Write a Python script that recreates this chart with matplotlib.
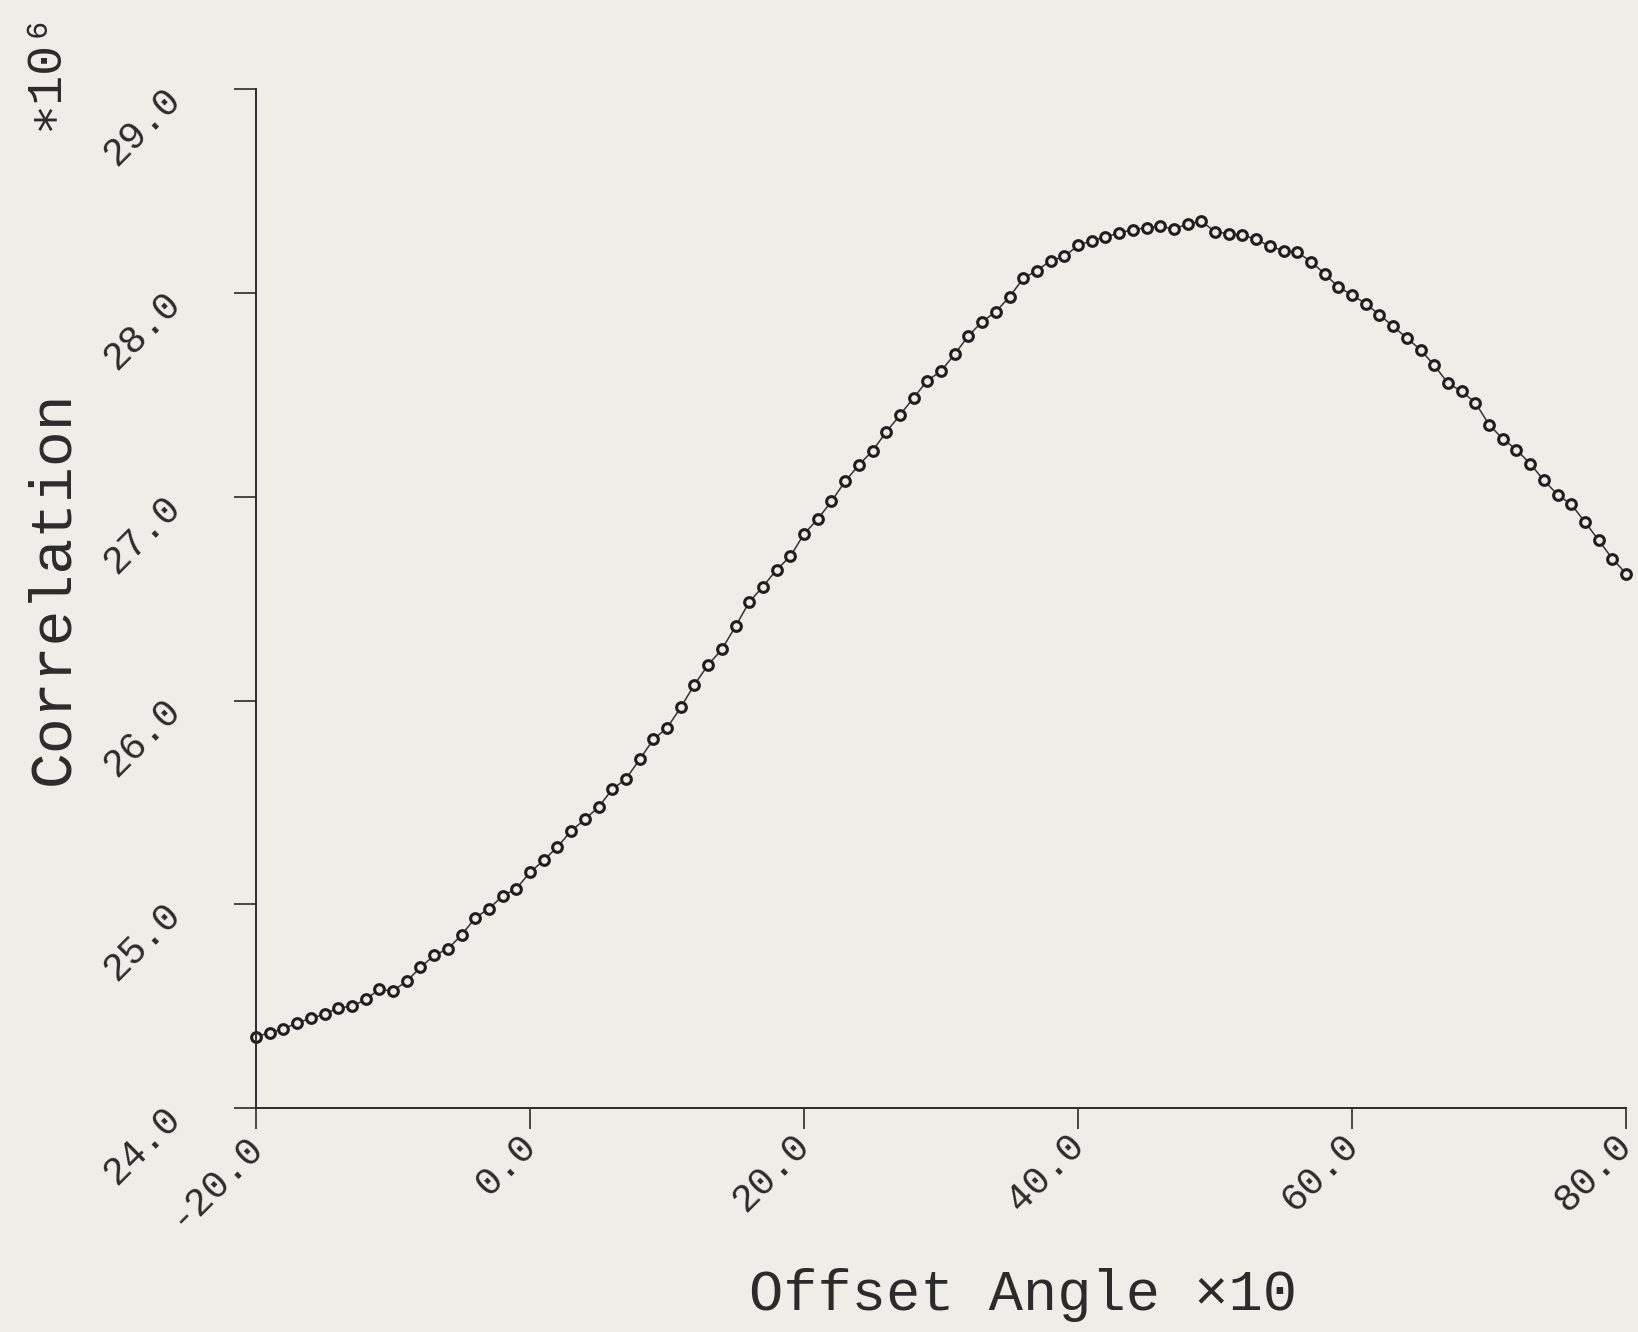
import numpy as np
import matplotlib
matplotlib.use("Agg")
import matplotlib.pyplot as plt
from matplotlib.transforms import ScaledTranslation

# offset angle (x10) and correlation (x10^6)
offset = list(range(-20, 81))
corr = [24.351, 24.371, 24.389, 24.420, 24.441, 24.462, 24.493, 24.500, 24.534, 24.583,
        24.576, 24.624, 24.691, 24.750, 24.782, 24.850, 24.934, 24.980, 25.041, 25.078,
        25.157, 25.217, 25.282, 25.361, 25.417, 25.478, 25.564, 25.616, 25.711, 25.809,
        25.866, 25.966, 26.078, 26.175, 26.251, 26.364, 26.483, 26.559, 26.642, 26.707,
        26.817, 26.890, 26.977, 27.075, 27.155, 27.225, 27.317, 27.400, 27.485, 27.569,
        27.616, 27.699, 27.789, 27.858, 27.907, 27.980, 28.070, 28.109, 28.157, 28.178,
        28.232, 28.256, 28.273, 28.294, 28.309, 28.319, 28.326, 28.312, 28.338, 28.350,
        28.300, 28.289, 28.282, 28.263, 28.227, 28.207, 28.199, 28.153, 28.093, 28.028,
        27.990, 27.946, 27.892, 27.835, 27.778, 27.720, 27.644, 27.557, 27.516, 27.461,
        27.353, 27.284, 27.230, 27.162, 27.080, 27.010, 26.962, 26.876, 26.786, 26.696,
        26.623]

xticks = [-20, 0, 20, 40, 60, 80]
xticklabels = ['-20.0', '0.0', '20.0', '40.0', '60.0', '80.0']
yticks = [24, 25, 26, 27, 28, 29]
yticklabels = ['24.0', '25.0', '26.0', '27.0', '28.0', '29.0']

paper = '#efede8'
ink = '#2b2b2b'
mono = ['Liberation Mono', 'DejaVu Sans Mono', 'DejaVu Sans']

fig = plt.figure(figsize=(16.38, 13.32), dpi=100, facecolor=paper)
ax = fig.add_axes([0.1563, 0.1679, 0.8364, 0.7654], facecolor=paper)

ax.plot(offset, corr, '-', color='#333333', lw=1.1, marker='o', ms=7,
        mfc=paper, mec='#1e1e1e', mew=2.2, clip_on=False)

ax.set_xlim(-20, 80)
ax.set_ylim(24, 29)
for s in ['top', 'right']:
    ax.spines[s].set_visible(False)
for s in ['left', 'bottom']:
    ax.spines[s].set_color(ink)
    ax.spines[s].set_linewidth(1.4)

ax.set_xticks(xticks)
ax.set_xticklabels(xticklabels, rotation=45, ha='right', va='top',
                   rotation_mode='anchor', family=mono, fontsize=28, color=ink)
ax.set_yticks(yticks)
ax.set_yticklabels(yticklabels, rotation=45, ha='right', va='top',
                   rotation_mode='anchor', family=mono, fontsize=28, color=ink)
ax.tick_params(axis='x', direction='out', length=15, width=1.2, color=ink, pad=0)
ax.tick_params(axis='y', direction='out', length=16, width=1.2, color=ink, pad=51)

# plotter labels sit a bit left of / above their ticks
sx = ScaledTranslation(-0.12, 0.02, fig.dpi_scale_trans)
for lab in ax.get_xticklabels():
    lab.set_transform(lab.get_transform() + sx)
sy = ScaledTranslation(0, 0.08, fig.dpi_scale_trans)
for lab in ax.get_yticklabels():
    lab.set_transform(lab.get_transform() + sy)

ax.set_xlabel('Offset Angle \u00d710', family=mono, fontsize=41, color=ink, va='baseline')
ax.xaxis.set_label_coords(0.5599, -0.1978)
ax.set_ylabel('Correlation', family=mono, fontsize=43, color=ink, va='center')
ax.yaxis.set_label_coords(-0.1485, 0.511)

ax.text(-0.154, 1.0184, '\u221710\u2076', transform=ax.transAxes, rotation=90,
        ha='center', va='center', family=mono, fontsize=36, color=ink)

plt.savefig('out.png', dpi=100, facecolor=paper)
